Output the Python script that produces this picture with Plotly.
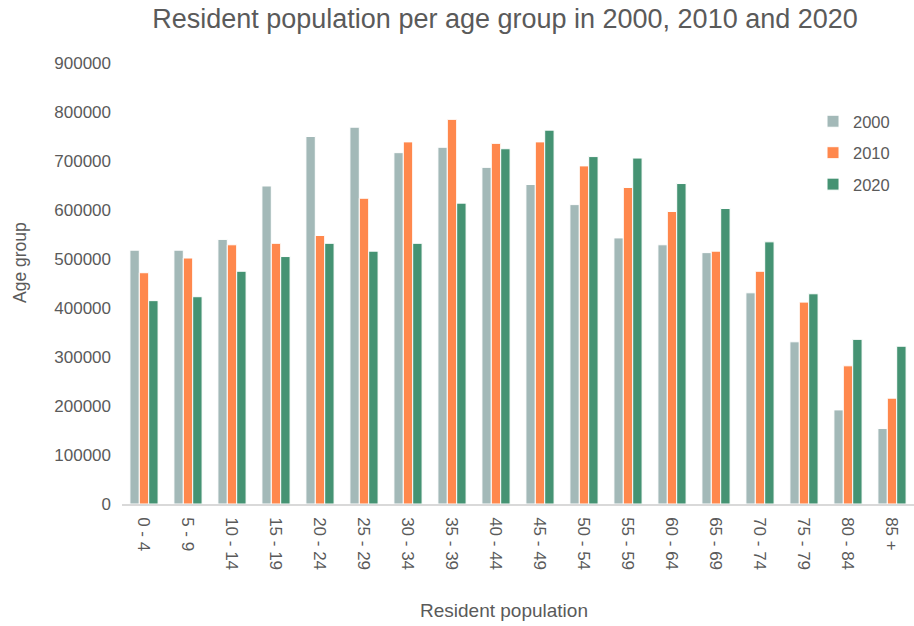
import plotly.graph_objects as go

# Age groups on the category axis
age_groups = ["0 - 4", "5 - 9", "10 - 14", "15 - 19", "20 - 24", "25 - 29",
              "30 - 34", "35 - 39", "40 - 44", "45 - 49", "50 - 54", "55 - 59",
              "60 - 64", "65 - 69", "70 - 74", "75 - 79", "80 - 84", "85 +"]

# Resident population per age group
pop_2000 = [518000, 518000, 540000, 649000, 750000, 769000, 717000, 728000, 687000,
            652000, 611000, 543000, 529000, 513000, 431000, 331000, 192000, 154000]
pop_2010 = [472000, 502000, 529000, 532000, 548000, 624000, 739000, 785000, 736000,
            739000, 690000, 646000, 597000, 516000, 475000, 412000, 282000, 216000]
pop_2020 = [415000, 423000, 475000, 505000, 532000, 516000, 532000, 614000, 725000,
            763000, 709000, 706000, 654000, 603000, 535000, 429000, 336000, 322000]

series = [("2000", pop_2000, "#A3B9B8"),
          ("2010", pop_2010, "#FF884D"),
          ("2020", pop_2020, "#459373")]

FONT = "Liberation Sans, Arial, Helvetica, sans-serif"
TEXT = "#5A5A5A"

fig = go.Figure()
for name, values, color in series:
    fig.add_trace(go.Bar(
        x=age_groups, y=values, name=name, legendgroup=name,
        marker=dict(color=color, line=dict(color="white", width=1)),
    ))

fig.update_layout(
    width=914, height=626,
    margin=dict(l=122, r=0, t=63, b=122),
    paper_bgcolor="white", plot_bgcolor="white",
    font=dict(family=FONT, color=TEXT, size=17),
    barmode="group", bargap=0.36, bargroupgap=0,
    title=dict(text="Resident population per age group in 2000, 2010 and 2020",
               font=dict(size=27, color=TEXT, family=FONT),
               x=505 / 914, xref="container", xanchor="center",
               y=1 - 19 / 626, yref="container", yanchor="middle"),
    legend=dict(x=0.8725, y=0.907, xanchor="left", yanchor="top",
                font=dict(size=16.5, color=TEXT), tracegroupgap=7,
                bgcolor="rgba(0,0,0,0)", itemclick=False),
    xaxis=dict(type="category", tickangle=90, showgrid=False,
               showline=True, linecolor="#D9D9D9", linewidth=1.5,
               ticks="", tickfont=dict(size=17, color=TEXT),
               ticklabelstandoff=8),
    yaxis=dict(range=[0, 900000], dtick=100000, tickformat="d",
               showgrid=False, zeroline=False, showline=False, ticks="",
               tickfont=dict(size=17, color=TEXT), ticklabelstandoff=10),
    annotations=[
        dict(text="Age group", xref="paper", yref="paper",
             x=-(122 - 20) / 792, y=(504 - 263) / 441, showarrow=False,
             textangle=-90, font=dict(size=17.5, color=TEXT),
             xanchor="center", yanchor="middle"),
        dict(text="Resident population", xref="paper", yref="paper",
             x=(504 - 122) / 792, y=-(610 - 504) / 441, showarrow=False,
             font=dict(size=19, color=TEXT), xanchor="center", yanchor="middle"),
    ],
)

fig.write_html("out.html")
